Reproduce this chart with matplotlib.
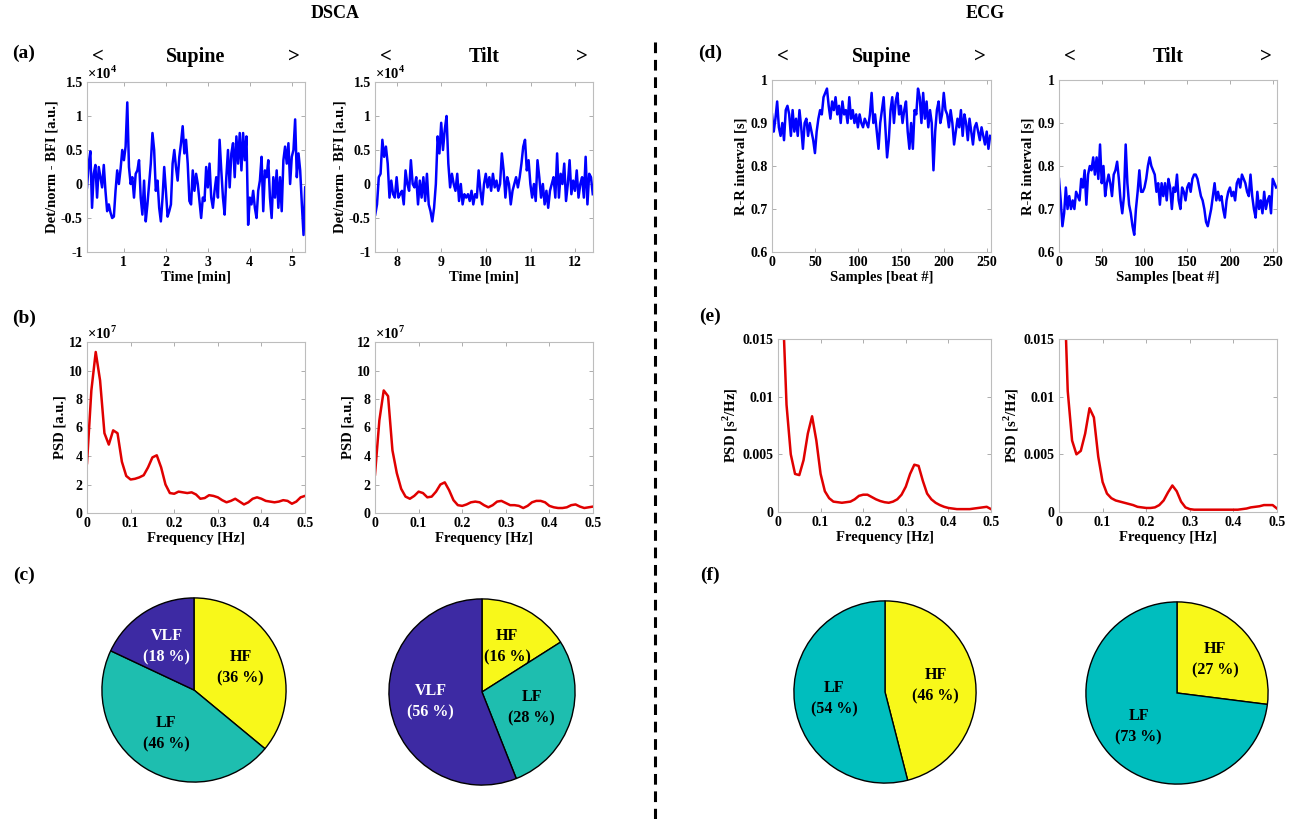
import numpy as np
import matplotlib
matplotlib.use('Agg')
import matplotlib.pyplot as plt
from matplotlib.ticker import FuncFormatter
from matplotlib.transforms import blended_transform_factory
from matplotlib.lines import Line2D

plt.rcParams['font.family'] = 'Liberation Serif'
plt.rcParams['font.weight'] = 'bold'
plt.rcParams['axes.labelweight'] = 'bold'
plt.rcParams['mathtext.fontset'] = 'custom'
plt.rcParams['mathtext.rm'] = 'Liberation Serif'
plt.rcParams['mathtext.bf'] = 'Liberation Serif:bold'
plt.rcParams['axes.unicode_minus'] = False

# ---------------- data ----------------
# DSCA detrended/normalised BFI (x10^4), sampled every 0.04 min
sup_t0, tilt_t0, dt_min = 0.125, 7.515, 0.04
sup_bfi = [-0.05, 0.3, 0.48, -0.35, 0.15, 0.28, -0.2, 0.25, 0.1, -0.05,
           0.28, -0.1, -0.4, -0.3, -0.42, -0.5, -0.48, -0.1, 0.2, 0.0,
           0.22, 0.5, 0.35, 0.55, 1.2, 0.25, 0.0, 0.1, -0.2, 0.15,
           0.2, 0.35, -0.2, -0.45, 0.05, -0.55, -0.3, 0.0, 0.3, 0.75,
           0.5, -0.1, 0.05, -0.35, -0.55, -0.2, 0.25, -0.1, -0.48, -0.4,
           -0.3, 0.3, 0.5, 0.25, 0.05, 0.4, 0.6, 0.85, 0.45, 0.65,
           0.3, -0.25, -0.3, 0.2, -0.1, 0.15, 0.0, -0.25, -0.5, -0.2,
           -0.25, 0.25, -0.05, 0.3, -0.2, -0.35, -0.1, 0.1, -0.2, 0.65,
           0.2, -0.2, -0.45, 0.1, 0.5, -0.05, 0.45, 0.6, 0.1, 0.7,
           0.3, 0.75, 0.2, 0.75, 0.35, 0.7, -0.6, -0.2, -0.3, -0.1,
           -0.35, -0.5, -0.1, 0.05, 0.4, -0.4, 0.2, 0.1, 0.35, -0.2,
           -0.5, 0.1, -0.2, 0.2, -0.35, 0.1, -0.4, 0.35, 0.55, 0.3,
           0.6, 0.0, 0.4, 0.5, 0.95, 0.1, 0.45, 0.2, -0.3, -0.75,
           -0.05]
tilt_bfi = [-0.45, -0.3, 0.1, 0.15, 0.65, 0.4, 0.55, 0.3, -0.2, 0.05,
            -0.15, -0.2, 0.1, -0.2, -0.15, -0.1, -0.3, 0.2, 0.0, -0.1,
            0.35, 0.0, -0.05, 0.1, -0.3, 0.05, -0.2, 0.1, -0.25, 0.15,
            -0.3, -0.4, -0.55, -0.35, 0.0, 0.7, 0.45, 0.9, 0.5, 0.8,
            1.0, 0.3, -0.05, 0.15, 0.0, -0.1, 0.15, -0.25, 0.0, -0.3,
            -0.15, -0.2, -0.15, -0.25, -0.1, -0.3, -0.15, -0.2, 0.2, -0.1,
            -0.3, 0.0, 0.15, -0.05, 0.1, -0.1, 0.15, -0.05, 0.05, -0.1,
            0.0, 0.45, 0.2, -0.2, 0.1, 0.0, -0.3, -0.1, 0.0, 0.1,
            -0.05, 0.1, 0.3, 0.55, 0.65, 0.2, 0.35, 0.0, -0.2, 0.0,
            -0.25, 0.35, 0.1, -0.2, 0.0, -0.3, -0.1, -0.35, -0.1, 0.0,
            0.1, -0.2, 0.45, -0.2, 0.15, 0.0, 0.3, -0.25, 0.0, 0.35,
            -0.15, 0.05, -0.1, 0.2, -0.2, 0.0, 0.1, -0.2, 0.4, -0.3,
            0.15, 0.1, -0.15]

# ECG R-R intervals [s], every 2nd beat
beats = np.arange(0, 256, 2)
sup_rr = [0.92, 0.88, 0.91, 0.95, 0.89, 0.87, 0.9, 0.86, 0.93, 0.94,
          0.92, 0.87, 0.93, 0.88, 0.91, 0.87, 0.93, 0.89, 0.84, 0.9,
          0.91, 0.87, 0.9, 0.88, 0.86, 0.83, 0.88, 0.91, 0.93, 0.92,
          0.96, 0.97, 0.98, 0.94, 0.91, 0.95, 0.93, 0.96, 0.92, 0.94,
          0.9, 0.95, 0.92, 0.93, 0.9, 0.96, 0.91, 0.93, 0.9, 0.92,
          0.89, 0.92, 0.9, 0.89, 0.91, 0.9, 0.89, 0.92, 0.97, 0.9,
          0.92, 0.88, 0.84, 0.9, 0.93, 0.96, 0.89, 0.82, 0.86, 0.93,
          0.96, 0.9, 0.95, 0.97, 0.92, 0.94, 0.9, 0.93, 0.95, 0.88,
          0.84, 0.9, 0.84, 0.93, 0.92, 0.98, 0.96, 0.9, 0.97, 0.91,
          0.95, 0.89, 0.93, 0.9, 0.79, 0.88, 0.93, 0.95, 0.9, 0.92,
          0.97, 0.93, 0.92, 0.89, 0.93, 0.9, 0.85, 0.88, 0.91, 0.89,
          0.93, 0.87, 0.92, 0.9, 0.86, 0.91, 0.88, 0.85, 0.89, 0.9,
          0.88, 0.86, 0.89, 0.87, 0.85, 0.88, 0.84, 0.87]
tilt_rr = [0.77, 0.72, 0.66, 0.69, 0.75, 0.7, 0.73, 0.7, 0.72, 0.7,
           0.74, 0.73, 0.72, 0.77, 0.75, 0.79, 0.71, 0.78, 0.8, 0.79,
           0.82, 0.78, 0.82, 0.77, 0.85, 0.76, 0.8, 0.73, 0.76, 0.78,
           0.76, 0.73, 0.78, 0.79, 0.81, 0.77, 0.72, 0.69, 0.73, 0.85,
           0.76, 0.71, 0.69, 0.66, 0.64, 0.7, 0.74, 0.79, 0.74, 0.74,
           0.75, 0.77, 0.8, 0.82, 0.8, 0.79, 0.78, 0.74, 0.76, 0.71,
           0.76, 0.73, 0.76, 0.72, 0.77, 0.75, 0.7, 0.75, 0.74, 0.78,
           0.72, 0.7, 0.75, 0.74, 0.72, 0.75, 0.76, 0.74, 0.77, 0.78,
           0.78, 0.77, 0.75, 0.73, 0.72, 0.7, 0.67, 0.66, 0.68, 0.7,
           0.73, 0.76, 0.72, 0.74, 0.72, 0.73, 0.7, 0.68, 0.72, 0.74,
           0.75, 0.73, 0.74, 0.72, 0.76, 0.77, 0.75, 0.78, 0.77, 0.76,
           0.74, 0.73, 0.78, 0.73, 0.7, 0.68, 0.74, 0.7, 0.72, 0.69,
           0.74, 0.7, 0.72, 0.73, 0.69, 0.77, 0.76, 0.75]

# power spectral densities, 0 to 0.5 Hz in 0.01 Hz steps
freq = np.round(np.arange(51) * 0.01, 2)
psd_sup_dsca = [3.5, 8.6, 11.3, 9.3, 5.6, 4.8, 5.8, 5.6, 3.6, 2.6,
                2.35, 2.4, 2.5, 2.65, 3.2, 3.9, 4.05, 3.2, 2.0, 1.4,
                1.35, 1.5, 1.45, 1.4, 1.45, 1.3, 1.0, 1.05, 1.25, 1.2,
                1.1, 0.9, 0.75, 0.85, 1.0, 0.8, 0.6, 0.75, 1.0, 1.1,
                1.0, 0.85, 0.8, 0.75, 0.8, 0.9, 0.85, 0.65, 0.8, 1.1,
                1.2]
psd_tilt_dsca = [2.7, 6.5, 8.6, 8.2, 4.4, 2.8, 1.7, 1.15, 1.0, 1.2,
                 1.5, 1.4, 1.1, 1.15, 1.5, 2.0, 2.15, 1.6, 0.9, 0.55,
                 0.5, 0.6, 0.75, 0.8, 0.75, 0.55, 0.4, 0.55, 0.8, 0.85,
                 0.7, 0.55, 0.55, 0.5, 0.35, 0.5, 0.75, 0.85, 0.85, 0.75,
                 0.5, 0.4, 0.35, 0.35, 0.4, 0.55, 0.6, 0.45, 0.35, 0.4,
                 0.45]
psd_sup_ecg = [0.04, 0.019, 0.0093, 0.005, 0.0033, 0.0032, 0.0045, 0.0068, 0.0083, 0.0062,
               0.0033, 0.0018, 0.0012, 0.0009, 0.00085, 0.0008, 0.00085, 0.0009, 0.0011, 0.0014,
               0.0015, 0.0015, 0.0013, 0.0011, 0.00095, 0.00085, 0.0008, 0.0009, 0.0011, 0.0015,
               0.0022, 0.0033, 0.0041, 0.004, 0.0027, 0.0016, 0.0011, 0.0008, 0.0006, 0.00045,
               0.00035, 0.0003, 0.00025, 0.00025, 0.00025, 0.00025, 0.0003, 0.00035, 0.0004, 0.00045,
               0.00025]
psd_tilt_ecg = [0.04, 0.022, 0.0105, 0.0062, 0.005, 0.0053, 0.0068, 0.009, 0.0082, 0.0048,
                0.0026, 0.0016, 0.0012, 0.001, 0.0009, 0.0008, 0.0007, 0.0006, 0.00045, 0.0004,
                0.00035, 0.00035, 0.0004, 0.0006, 0.001, 0.0017, 0.0023, 0.0018, 0.0009, 0.0004,
                0.00025, 0.0002, 0.0002, 0.0002, 0.0002, 0.0002, 0.0002, 0.0002, 0.0002, 0.0002,
                0.0002, 0.0002, 0.00025, 0.0003, 0.0004, 0.00045, 0.0005, 0.0006, 0.0006, 0.0006,
                0.0003]

# spectral band shares [%], order HF, LF, VLF
dsca_bands = ['HF', 'LF', 'VLF']
dsca_sup_pct = [36, 46, 18]
dsca_tilt_pct = [16, 28, 56]
ecg_bands = ['HF', 'LF']
ecg_sup_pct = [46, 54]
ecg_tilt_pct = [27, 73]

# ---------------- figure ----------------
W, H = 1300, 819
fig = plt.figure(figsize=(W / 100, H / 100), dpi=100)


def px_axes(l, t, r, b):
    return fig.add_axes([l / W, 1 - b / H, (r - l) / W, (b - t) / H])


fmt = FuncFormatter(lambda v, p: '%g' % round(v, 6))


def style(ax, xlim, ylim, xticks, yticks, xlabel, ylabel):
    ax.set_xlim(xlim)
    ax.set_ylim(ylim)
    ax.set_xticks(xticks)
    ax.set_yticks(yticks)
    ax.xaxis.set_major_formatter(fmt)
    ax.yaxis.set_major_formatter(fmt)
    ax.tick_params(direction='in', top=True, right=True, length=3, width=0.6,
                   color='#A0A0A0', labelsize=10, pad=3)
    for s in ax.spines.values():
        s.set_color('#BDBDBD')
        s.set_linewidth(0.8)
    ax.set_xlabel(xlabel, fontsize=10.5, labelpad=1)
    ax.set_ylabel(ylabel, fontsize=10.5, labelpad=2)


def header(ax, name):
    tr = blended_transform_factory(ax.transAxes, fig.transFigure)
    y = 1 - 57 / H
    ax.text(0.05, y, '<', transform=tr, ha='center', va='center', fontsize=15)
    ax.text(0.5, y, name, transform=tr, ha='center', va='center', fontsize=14.5)
    ax.text(0.95, y, '>', transform=tr, ha='center', va='center', fontsize=15)


def offset(ax, power):
    ax.text(0.0, 1.0, r'$\times10^{%d}$' % power, transform=ax.transAxes,
            ha='left', va='bottom', fontsize=10.5, fontweight='normal')


blue = '#0000FF'
red = '#E00000'

# (a) DSCA time series
ax = px_axes(87, 82, 305, 252)
ax.plot(sup_t0 + dt_min * np.arange(len(sup_bfi)), sup_bfi, color=blue, lw=1.8)
style(ax, (0.125, 5.32), (-1, 1.5), [1, 2, 3, 4, 5], [-1, -0.5, 0, 0.5, 1, 1.5],
      'Time [min]', 'Det/norm - BFI [a.u.]')
offset(ax, 4)
header(ax, 'Supine')

ax = px_axes(375, 82, 593, 252)
ax.plot(tilt_t0 + dt_min * np.arange(len(tilt_bfi)), tilt_bfi, color=blue, lw=1.8)
style(ax, (7.51, 12.4), (-1, 1.5), [8, 9, 10, 11, 12], [-1, -0.5, 0, 0.5, 1, 1.5],
      'Time [min]', 'Det/norm - BFI [a.u.]')
offset(ax, 4)
header(ax, 'Tilt')

# (d) ECG R-R
ax = px_axes(772, 80, 991, 252)
ax.plot(beats, sup_rr, color=blue, lw=1.8)
style(ax, (0, 255), (0.6, 1), [0, 50, 100, 150, 200, 250], [0.6, 0.7, 0.8, 0.9, 1],
      'Samples [beat #]', 'R-R interval [s]')
header(ax, 'Supine')

ax = px_axes(1059, 80, 1277, 252)
ax.plot(beats, tilt_rr, color=blue, lw=1.8)
style(ax, (0, 255), (0.6, 1), [0, 50, 100, 150, 200, 250], [0.6, 0.7, 0.8, 0.9, 1],
      'Samples [beat #]', 'R-R interval [s]')
header(ax, 'Tilt')

# (b) DSCA PSD
for (l, r), psd in zip([(87, 305), (375, 593)], [psd_sup_dsca, psd_tilt_dsca]):
    ax = px_axes(l, 342, r, 513)
    ax.plot(freq, psd, color=red, lw=1.8)
    style(ax, (0, 0.5), (0, 12), [0, 0.1, 0.2, 0.3, 0.4, 0.5], [0, 2, 4, 6, 8, 10, 12],
          'Frequency [Hz]', 'PSD [a.u.]')
    offset(ax, 7)

# (e) ECG PSD
for (l, r), psd in zip([(778, 991), (1059, 1277)], [psd_sup_ecg, psd_tilt_ecg]):
    ax = px_axes(l, 339, r, 512)
    ax.plot(freq, psd, color=red, lw=1.8)
    style(ax, (0, 0.5), (0, 0.015), [0, 0.1, 0.2, 0.3, 0.4, 0.5], [0, 0.005, 0.01, 0.015],
          'Frequency [Hz]', r'PSD [s$^{\mathbf{2}}$/Hz]')

# (c), (f) pies
col = {'HF': '#F8F81A', 'LF': '#1EBEAF', 'VLF': '#3D2AA3'}
col_ecg = {'HF': '#F8F81A', 'LF': '#00BEBE'}


def pie(cx, cy, rad, pct, names, cmap):
    ax = px_axes(cx - rad, cy - rad, cx + rad, cy + rad)
    labels = ['%s\n(%d %%)' % (n, p) for n, p in zip(names, pct)]
    wedges, texts = ax.pie(pct, labels=labels, colors=[cmap[n] for n in names],
                           startangle=90, counterclock=False, labeldistance=0.56,
                           wedgeprops=dict(edgecolor='k', linewidth=1),
                           textprops=dict(fontsize=11.5, fontweight='bold', ha='center',
                                          va='center', linespacing=1.45))
    for n, t in zip(names, texts):
        if n == 'VLF':
            t.set_color('white')
    ax.set_xlim(-1.01, 1.01)
    ax.set_ylim(-1.01, 1.01)


pie(194, 690, 93, dsca_sup_pct, dsca_bands, col)
pie(482, 692, 94, dsca_tilt_pct, dsca_bands, col)
pie(885, 692, 92, ecg_sup_pct, ecg_bands, col_ecg)
pie(1177, 693, 92, ecg_tilt_pct, ecg_bands, col_ecg)

# headings, panel letters, separator
fig.text(335 / W, 1 - 13 / H, 'DSCA', ha='center', va='center', fontsize=13)
fig.text(985 / W, 1 - 13 / H, 'ECG', ha='center', va='center', fontsize=13)
for lab, x, y in [('(a)', 24, 53), ('(b)', 24, 318), ('(c)', 24, 575),
                  ('(d)', 710, 53), ('(e)', 710, 316), ('(f)', 710, 575)]:
    fig.text(x / W, 1 - y / H, lab, ha='center', va='center', fontsize=14)

fig.add_artist(Line2D([655 / W, 655 / W], [0, 1 - 40 / H], transform=fig.transFigure,
                      color='k', lw=2.2, ls=(0, (3.5, 2.2))))

fig.savefig('out.png', dpi=100)
